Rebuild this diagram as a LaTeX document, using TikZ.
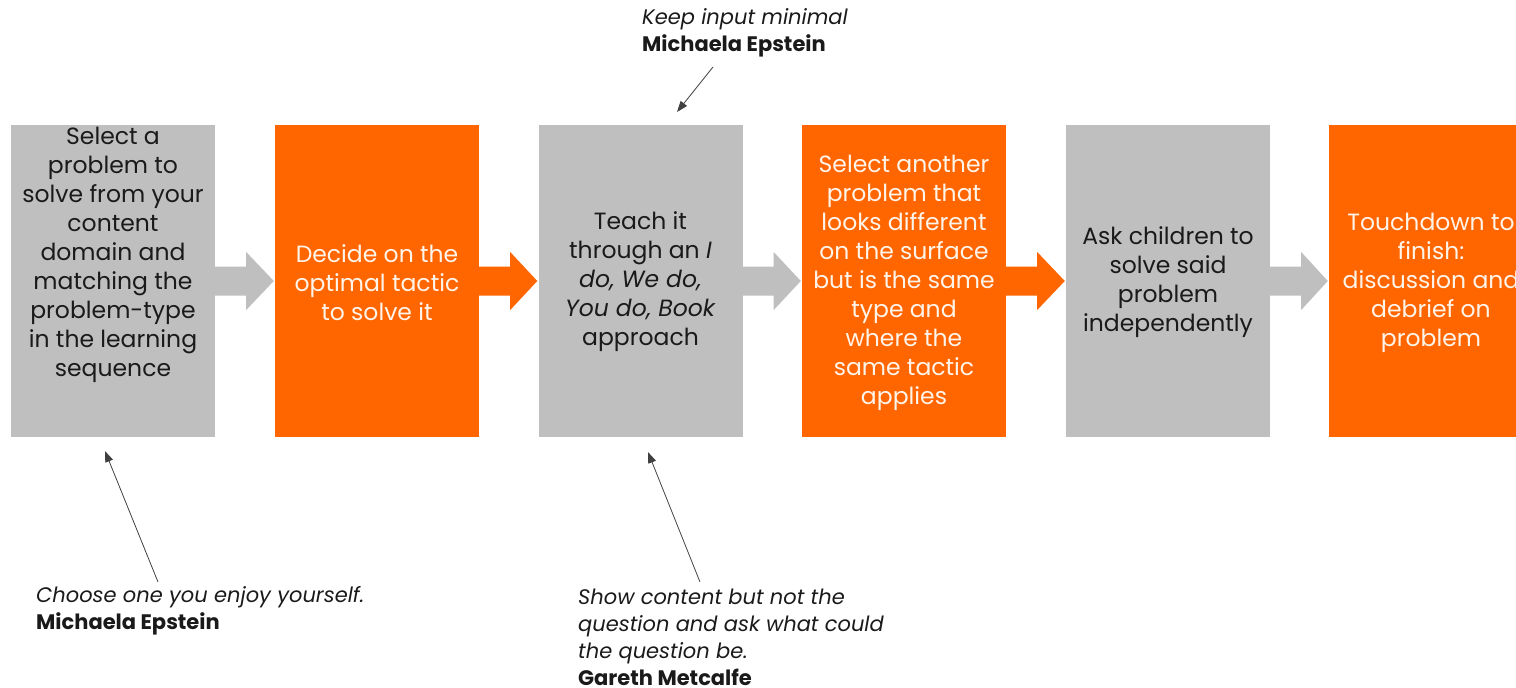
\documentclass[tikz,border=0pt]{standalone}
\usepackage{fontspec}
\setmainfont{Poppins}
\usetikzlibrary{calc,arrows.meta}
\definecolor{boxgray}{HTML}{BFBFBF}
\definecolor{boxorange}{HTML}{FF6600}
\definecolor{darktext}{HTML}{1A1A1A}
\definecolor{lighttext}{HTML}{FFF4EA}
\definecolor{noteline}{HTML}{404040}
\tikzset{
  stepbox/.style={minimum width=204pt,minimum height=312pt,inner sep=0pt,draw=none},
  graybox/.style={stepbox,fill=boxgray},
  orangebox/.style={stepbox,fill=boxorange},
  boxtext/.style={align=center,inner sep=0pt,font=\fontsize{23.5}{29}\selectfont},
  darkbt/.style={boxtext,text=darktext},
  lightbt/.style={boxtext,text=lighttext},
  notetext/.style={align=left,inner sep=0pt,anchor=west,text=darktext,font=\fontsize{21}{27}\selectfont},
  notearrow/.style={draw=noteline,line width=0.8pt,-{Triangle[length=11pt,width=8pt]}}
}
\newcommand\blockarrow[3]{%
  \fill[#3] ($(#1.east)+(0,-14.5)$) -- ++(31,0) -- ++(0,-14.5) -- ($(#2.west)+(-1,0)$)
    -- ($(#1.east)+(31,29)$) -- ++(0,-14.5) -- ($(#1.east)+(0,14.5)$) -- cycle;}
\begin{document}
\begin{tikzpicture}[x=1pt,y=-1pt]
\useasboundingbox (0,0) rectangle (1516,688);
\clip (0,0) rectangle (1516,688);
\node[graybox]   (b1) at (113,281)   {};
\node[orangebox] (b2) at (377,281)   {};
\node[graybox]   (b3) at (640.5,281) {};
\node[orangebox] (b4) at (904,281)   {};
\node[graybox]   (b5) at (1168,281)  {};
\node[orangebox] (b6) at (1431,281)  {};
\blockarrow{b1}{b2}{boxgray}
\blockarrow{b2}{b3}{boxorange}
\blockarrow{b3}{b4}{boxgray}
\blockarrow{b4}{b5}{boxorange}
\blockarrow{b5}{b6}{boxgray}
\node[darkbt] (t1) at (113,255) {Select a\\problem to\\solve from your\\content\\domain and\\matching the\\problem-type\\in the learning\\sequence};
\node[lightbt] (t2) at (377,283) {Decide on the\\optimal tactic\\to solve it};
\node[darkbt] (t3) at (640.5,282) {Teach it\\through an \textit{I}\\\textit{do, We do,}\\\textit{You do, Book}\\approach};
\node[lightbt] (t4) at (904,282.5) {Select another\\problem that\\looks different\\on the surface\\but is the same\\type and\\where the\\same tactic\\applies};
\node[darkbt] (t5) at (1168,282.5) {Ask children to\\solve said\\problem\\independently};
\node[lightbt] (t6) at (1431,282.5) {Touchdown to\\finish:\\discussion and\\debrief on\\problem};
% annotations
\node[notetext] (n1) at (642,32.5) {\textit{Keep input minimal}\\\textbf{Michaela Epstein}};
\node[notetext] (n2) at (36,610.5) {\textit{Choose one you enjoy yourself.}\\\textbf{Michaela Epstein}};
\node[notetext] (n3) at (578,637) {\textit{Show content but not the}\\\textit{question and ask what could}\\\textit{the question be.}\\\textbf{Gareth Metcalfe}};
\coordinate (a1s) at (713,67);  \coordinate (a1e) at (677,112);
\coordinate (a2s) at (158,582); \coordinate (a2e) at (105,451);
\coordinate (a3s) at (700,582); \coordinate (a3e) at (648,452);
\draw[notearrow] (a1s) -- (a1e);
\draw[notearrow] (a2s) -- (a2e);
\draw[notearrow] (a3s) -- (a3e);
\end{tikzpicture}
\end{document}
